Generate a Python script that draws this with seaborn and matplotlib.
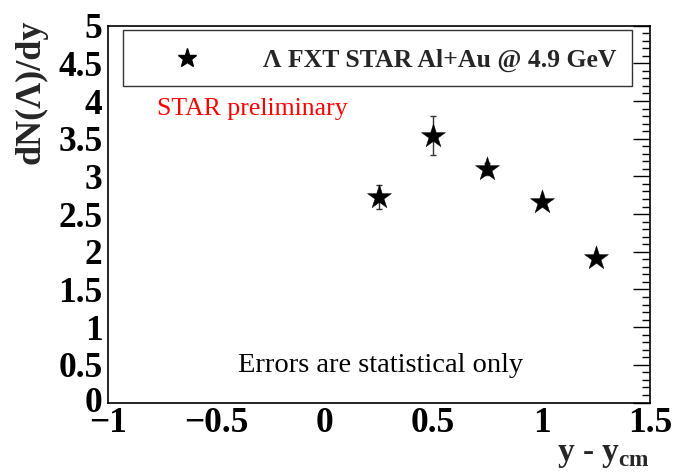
import matplotlib
matplotlib.use("Agg")
import matplotlib.pyplot as plt
import matplotlib.transforms as mtransforms
import seaborn as sns
import pandas as pd
import numpy as np
from matplotlib.ticker import MultipleLocator, FuncFormatter
from matplotlib.patches import Rectangle
from matplotlib.lines import Line2D

# data
rapidity = [0.25, 0.5, 0.75, 1.0, 1.25]
dndy = [2.73, 3.54, 3.10, 2.66, 1.92]
stat_err = [0.16, 0.26, 0.08, 0.04, 0.04]
legend_label = "Λ FXT STAR Al+Au @ 4.9 GeV"

df = pd.DataFrame({"x": rapidity, "y": dndy, "err": stat_err})

sns.set_style("white")
plt.rcParams['font.family'] = ['Liberation Serif', 'DejaVu Serif']
plt.rcParams['mathtext.fontset'] = 'custom'
plt.rcParams['mathtext.rm'] = 'Liberation Serif'
plt.rcParams['mathtext.bf'] = 'Liberation Serif:bold'

fig = plt.figure(figsize=(6.76, 4.75), dpi=100)
ax = fig.add_axes([0.160, 0.1526, 0.9615 - 0.160, 0.946 - 0.1526])

ax.errorbar(df["x"], df["y"], yerr=df["err"], fmt='none', ecolor='#333333',
            elinewidth=1.0, capsize=2.5, capthick=1.0, zorder=2)
sns.scatterplot(data=df, x="x", y="y", marker='*', s=330, color='black',
                edgecolor='black', linewidth=0.3, ax=ax, zorder=3, legend=False)

ax.set_xlim(-1, 1.5)
ax.set_ylim(0, 5)
ax.set_xlabel("")
ax.set_ylabel("")

ax.xaxis.set_major_locator(MultipleLocator(0.5))
ax.xaxis.set_minor_locator(MultipleLocator(0.1))
ax.yaxis.set_major_locator(MultipleLocator(0.5))
ax.yaxis.set_minor_locator(MultipleLocator(0.1))

def fmt(v, pos):
    if abs(v - round(v)) < 1e-9:
        s = "%d" % round(v)
    else:
        s = "%.1f" % v
    return s.replace("-", "\u2212")

ax.xaxis.set_major_formatter(FuncFormatter(fmt))
ax.yaxis.set_major_formatter(FuncFormatter(fmt))

ax.tick_params(axis='both', which='both', direction='in', top=False, right=True,
               colors='black', width=1.0)
ax.tick_params(axis='y', which='major', length=12, pad=4)
ax.tick_params(axis='y', which='minor', length=6)
ax.tick_params(axis='x', which='major', length=8.5, pad=3)
ax.tick_params(axis='x', which='minor', length=4)

for lab in ax.get_xticklabels() + ax.get_yticklabels():
    lab.set_fontsize(25.5)
    lab.set_fontweight('bold')

fig.canvas.draw()
for lab in ax.get_yticklabels():
    if lab.get_text() == "0":
        lab.set_transform(lab.get_transform() +
                          mtransforms.ScaledTranslation(0, 3 / 100.0, fig.dpi_scale_trans))

for sp in ax.spines.values():
    sp.set_color('black')
    sp.set_linewidth(1.2)

fx = lambda px: px / 676.0
fy = lambda py: 1 - py / 475.0

fig.text(fx(650), fy(470), r"y - y$_{\mathbf{cm}}$", fontsize=24, fontweight='bold',
         ha='right', va='bottom')

fig.text(fx(31), fy(20), "dN(Λ)/dy", fontsize=26, fontweight='bold',
         rotation=90, ha='center', va='top')

# legend box (ROOT-style)
box = Rectangle((fx(123), fy(86)), fx(632) - fx(123), fy(30) - fy(86),
                transform=fig.transFigure, fill=True, facecolor='white',
                edgecolor='#333333', linewidth=1.0, zorder=4)
fig.patches.append(box)
fig.lines.append(Line2D([fx(186.5)], [fy(58)], marker='*', markersize=14,
                        color='black', transform=fig.transFigure, zorder=5))
fig.text(fx(616), fy(60), legend_label, fontsize=18.5, fontweight='bold',
         ha='right', va='center', zorder=6)

ax.text(0.091, 0.778, "STAR preliminary", transform=ax.transAxes, color='red',
        fontsize=18.5, ha='left', va='center')
ax.text(0.24, 0.098, "Errors are statistical only", transform=ax.transAxes,
        color='black', fontsize=20.5, ha='left', va='center')

fig.savefig("out.png", dpi=100)
